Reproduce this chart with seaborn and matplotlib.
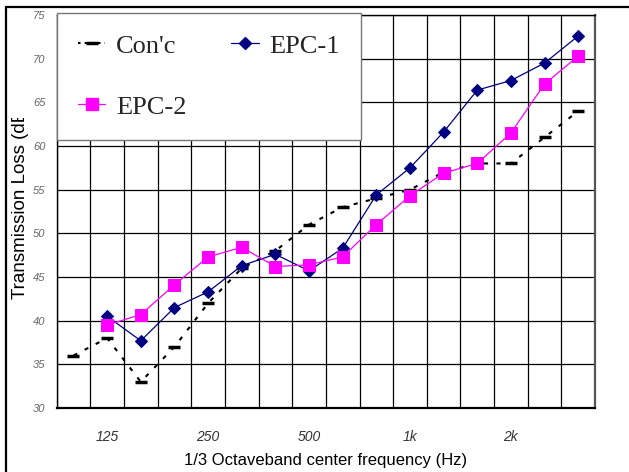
import matplotlib
matplotlib.use("Agg")
import matplotlib.pyplot as plt
import seaborn as sns
import pandas as pd
from matplotlib.transforms import Bbox, TransformedBbox
from matplotlib.lines import Line2D

# 1/3 octave bands 100 Hz .. 3.15 kHz
bands = ["100", "125", "160", "200", "250", "315", "400", "500",
         "630", "800", "1k", "1.25k", "1.6k", "2k", "2.5k", "3.15k"]
tick_labels = ["125", "250", "500", "1k", "2k"]

conc = [36, 38, 33, 37, 42, 46, 48, 51, 53, 54, 55, 57, 58, 58, 61, 64]
epc1 = [None, 40.5, 37.7, 41.5, 43.3, 46.3, 47.6, 45.7, 48.3, 54.4,
        57.5, 61.6, 66.4, 67.5, 69.5, 72.6]
epc2 = [None, 39.5, 40.7, 44.1, 47.3, 48.4, 46.2, 46.4, 47.3, 51.0,
        54.3, 56.9, 58.0, 61.5, 67.1, 70.3]

df = pd.DataFrame({"band": bands, "pos": range(len(bands)),
                   "Con'c": conc, "EPC-1": epc1, "EPC-2": epc2})

sns.set_theme(style="white")
plt.rcParams["font.family"] = ["Liberation Sans", "DejaVu Sans"]

fig = plt.figure(figsize=(6.29, 4.72), dpi=100)
ax = fig.add_axes([0.0901, 0.1356, 0.8559, 0.8326])

sns.lineplot(data=df, x="pos", y="Con'c", ax=ax, color="black",
             linewidth=1.5, linestyle=(0, (2, 4)), marker="_",
             markersize=8, markeredgewidth=2.5, markeredgecolor="black",
             zorder=3)
sns.lineplot(data=df.dropna(), x="pos", y="EPC-1", ax=ax, color="#000080",
             linewidth=0.9, marker="D", markersize=6.5,
             markeredgecolor="#000080", zorder=4)
sns.lineplot(data=df.dropna(), x="pos", y="EPC-2", ax=ax, color="#FF00FF",
             linewidth=0.9, marker="s", markersize=8,
             markeredgecolor="#FF00FF", zorder=5)

ax.set_xlim(-0.5, len(bands) - 0.5)
ax.set_ylim(30, 75)
ax.set_yticks(range(30, 80, 5))
ax.set_xticks([bands.index(t) for t in tick_labels])
ax.set_xticklabels(tick_labels)
ax.set_xticks([i - 0.5 for i in range(len(bands) + 1)], minor=True)
ax.grid(True, which="minor", axis="x", color="black", linewidth=0.9)
ax.grid(True, which="major", axis="y", color="black", linewidth=0.9)
ax.grid(False, which="major", axis="x")
ax.tick_params(axis="x", which="major", length=0, pad=16, labelsize=10,
               labelcolor="#333333")
ax.tick_params(axis="x", which="minor", length=0)
ax.tick_params(axis="y", length=0, pad=8, labelsize=8, labelcolor="#666666")
for lab in ax.get_xticklabels() + ax.get_yticklabels():
    lab.set_fontstyle("italic")

for s in ax.spines.values():
    s.set_color("black")
    s.set_linewidth(1.0)
ax.spines["right"].set_color("#555555")
ax.spines["bottom"].set_linewidth(1.6)
ax.spines["right"].set_linewidth(1.6)

ax.set_xlabel("1/3 Octaveband center frequency (Hz)", fontsize=12,
              color="black", labelpad=6)
ylab = ax.set_ylabel("Transmission Loss (dB)", fontsize=13.5, color="black")
ax.yaxis.set_label_coords(-0.0515, 0.527)
ylab.set_clip_box(TransformedBbox(Bbox([[0, 0], [1, 354 / 472]]),
                                  fig.transFigure))
ylab.set_clip_on(True)

# legend
handles = [
    Line2D([], [], color="black", linewidth=1.5, linestyle=(0, (1.2, 2)),
           marker="_", markersize=8, markeredgewidth=2.5),
    Line2D([], [], color="#FF00FF", linewidth=0.9, marker="s", markersize=8),
    Line2D([], [], color="#000080", linewidth=0.9, marker="D", markersize=6.5),
]
leg = ax.legend(handles, ["Con'c", "EPC-2", "EPC-1"], ncol=2,
                loc="upper left", bbox_to_anchor=(0, 1.005),
                borderaxespad=0, fancybox=False, framealpha=1,
                edgecolor="#777777", handlelength=1.05, handletextpad=0.4,
                columnspacing=1.7, labelspacing=1.42, borderpad=0.8,
                prop={"family": "Liberation Serif", "size": 19})
leg.get_frame().set_linewidth(1.0)
leg.set_zorder(10)

# outer frame (top and left)
fig.add_artist(Line2D([0.009, 1], [0.985, 0.985], color="black",
                      linewidth=1.6, transform=fig.transFigure))
fig.add_artist(Line2D([0.009, 0.009], [0, 0.985], color="black",
                      linewidth=1.6, transform=fig.transFigure))

fig.savefig("out.png", dpi=100)
